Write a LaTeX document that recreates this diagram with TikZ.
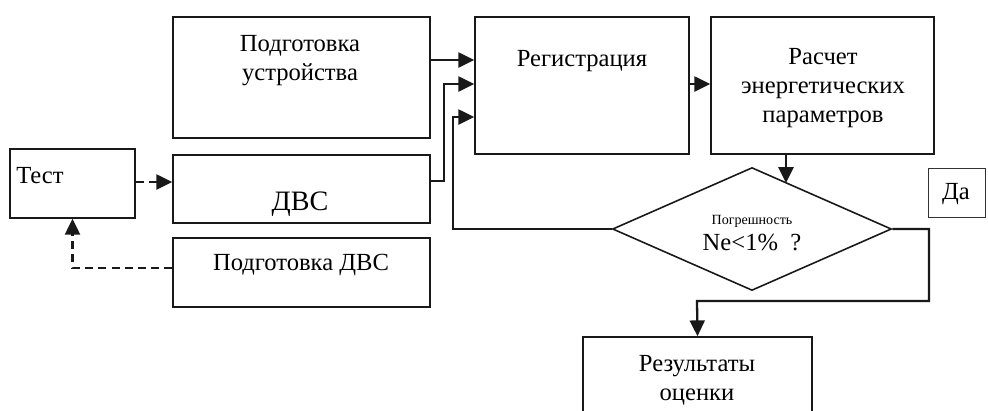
\documentclass[tikz,border=0pt]{standalone}
\usepackage{fontspec}
\setmainfont{Liberation Serif}
\usetikzlibrary{arrows.meta, shapes.geometric, positioning}
\tikzset{
  blk/.style={
    rectangle, draw=black!90, line width=0.9pt, inner sep=0pt
  },
  decision/.style={
    diamond, draw=black!90, line width=0.9pt, inner sep=0pt
  },
  thinblk/.style={
    rectangle, draw=black!80, line width=0.5pt, inner sep=0pt
  },
  arr/.style={
    -{Triangle[length=9pt,width=8.5pt]}, line width=1.3pt, color=black!90
  },
  dasharr/.style={
    arr, dash pattern=on 4.5pt off 3pt
  },
  txt/.style={font=\fontsize{14}{16.5}\selectfont, align=center, inner sep=0pt}
}

\begin{document}
\begin{tikzpicture}[x=0.02cm, y=-0.02cm]
      \useasboundingbox (0,0) rectangle (988,410);

      % Boxes
      \node[blk, minimum width=5.14cm, minimum height=2.42cm] (prep) at (301.5,77.5) {};
      \node[blk, minimum width=4.28cm, minimum height=2.74cm] (reg) at (582,85.5) {};
      \node[blk, minimum width=4.46cm, minimum height=2.74cm] (calc) at (822.5,85.5) {};
      \node[blk, minimum width=2.5cm, minimum height=1.38cm] (test) at (72.5,183.5) {};
      \node[blk, minimum width=5.14cm, minimum height=1.36cm] (dvs) at (301.5,189) {};
      \node[blk, minimum width=5.14cm, minimum height=1.38cm] (prepdvs) at (301.5,272.5) {};
      \node[decision, minimum width=5.58cm, minimum height=2.46cm] (dec) at (752,229) {};
      \node[thinblk, minimum width=1.14cm, minimum height=0.98cm] (yes) at (956.5,192.5) {};
      \node[blk, minimum width=4.58cm, minimum height=1.66cm] (result) at (697.5,378.5) {};

      % Texts
      \node[txt] (preptext) at (300,61) {Подготовка\\устройства};
      \node[txt] (regtext) at (582,61) {Регистрация};
      \node[txt] (calctext) at (823,88) {Расчет\\энергетических\\параметров};
      \node[txt, anchor=west] (testtext) at (16,176) {Тест};
      \node[txt, font=\fontsize{16}{18}\selectfont] (dvstext) at (300,204) {ДВС};
      \node[txt] (prepdvstext) at (301,265) {Подготовка ДВС};
      \node[txt, font=\fontsize{8}{9}\selectfont] (errtext) at (752,221) {Погрешность};
      \node[txt] (netext) at (752,242) {Ne<1\%~ ?};
      \node[txt] (yestext) at (956,194) {Да};
      \node[txt] (restext) at (697,380) {Результаты\\оценки};

      % Connectors into registration
      \coordinate (dectop) at (786,183);
      \draw[arr] (prep.east |- 0,60) -- (reg.west |- 0,60);
      \draw[arr] (dvs.east |- 0,181) -| (444,84) -- (reg.west |- 0,84);
      \draw[arr] (dec.west) -| (453,117) -- (reg.west |- 0,117);
      \draw[arr] (reg.east |- 0,84) -- (calc.west |- 0,84);
      \draw[arr] (calc.south -| dectop) -- (dectop);
      \draw[arr] (dec.east) -- (929,229) |- (697,301) -- (result.north);

      % Dashed test links
      \draw[dasharr] (test.east |- 0,182) -- (dvs.west |- 0,182);
      \draw[dasharr] (prepdvs.west |- 0,268) -| (test.south);
    \end{tikzpicture}
\end{document}
